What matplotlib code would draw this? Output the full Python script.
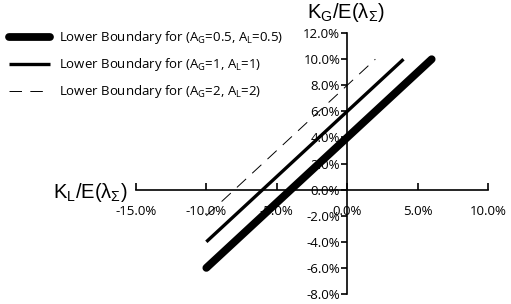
import numpy as np, matplotlib
matplotlib.use("Agg"); import matplotlib.pyplot as plt

plt.rcParams["font.family"] = ["Open Sans", "DejaVu Sans"]
plt.rcParams["mathtext.default"] = "regular"
plt.rcParams["lines.scale_dashes"] = False

# lower boundaries, K_L/E(λΣ) -> K_G/E(λΣ), in %
x_a05 = [-10.0, 6.0];  y_a05 = [-6.0, 10.0]
x_a1 = [-10.0, 4.0];   y_a1 = [-4.0, 10.0]
x_a2 = [-10.0, 2.0];   y_a2 = [-2.0, 10.0]
labels = [r"Lower Boundary for (A$_G$=0.5, A$_L$=0.5)",
          r"Lower Boundary for (A$_G$=1, A$_L$=1)",
          r"Lower Boundary for (A$_G$=2, A$_L$=2)"]
xticks = [-15, -10, -5, 0, 5, 10]
yticks = [-8, -6, -4, -2, 0, 2, 4, 6, 8, 10, 12]

fig = plt.figure(figsize=(5.11, 3.04), dpi=100)
ax = fig.add_axes([0.266, 0.033, 0.689, 0.858])
ax.plot(x_a05, y_a05, color="black", lw=5.6, solid_capstyle="round", label=labels[0])
ax.plot(x_a1, y_a1, color="black", lw=2.4, solid_capstyle="butt", label=labels[1])
ax.plot(x_a2, y_a2, color="black", lw=0.7, dashes=(9, 6), label=labels[2])

ax.set_xlim(-15, 10); ax.set_ylim(-8, 12)
ax.spines["left"].set_position(("data", 0))
ax.spines["bottom"].set_position(("data", 0))
ax.spines["top"].set_visible(False); ax.spines["right"].set_visible(False)
for s in ("left", "bottom"):
    ax.spines[s].set_linewidth(1.2)
ax.set_xticks(xticks, [f"{v:.1f}%" for v in xticks])
ax.set_yticks(yticks, [f"{v:.1f}%" for v in yticks])
ax.tick_params(axis="x", direction="in", length=5, width=1.2, pad=11, labelsize=9.5)
ax.tick_params(axis="y", direction="out", length=4, width=1.2, pad=1, labelsize=9.5)

fig.text(90 / 511, 1 - 198 / 304, r"K$_L$/E(λ$_Σ$)", fontsize=14.5, ha="center", va="baseline",
         family=["Liberation Sans", "DejaVu Sans"])
fig.text(346 / 511, 1 - 18 / 304, r"K$_G$/E(λ$_Σ$)", fontsize=14.5, ha="center", va="baseline",
         family=["Liberation Sans", "DejaVu Sans"])

fig.legend(loc="upper left", bbox_to_anchor=(0.004, 0.925), frameon=False, fontsize=9.5,
           handlelength=3.1, handletextpad=0.7, labelspacing=0.75, borderpad=0)
fig.savefig("out.png", dpi=100)
